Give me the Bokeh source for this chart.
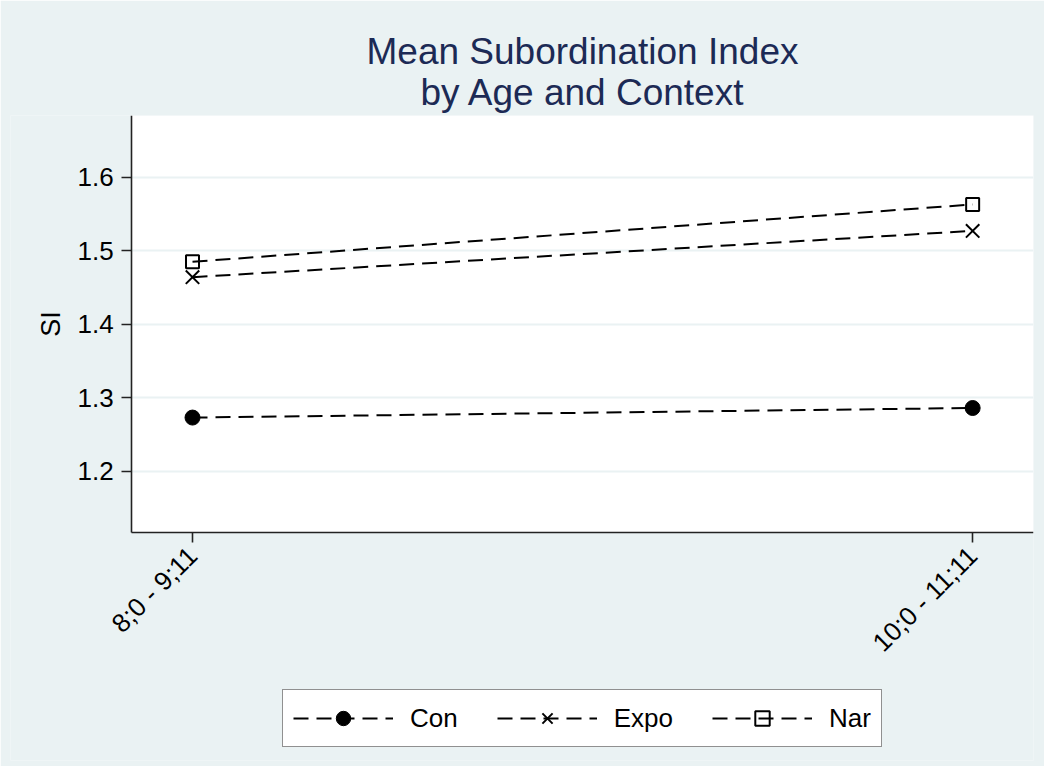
from bokeh.plotting import figure
from bokeh.models import (FixedTicker, Range1d, Legend, LegendItem, Title,
                          BoxAnnotation, Label)
from bokeh.embed import file_html
from bokeh.resources import INLINE
import math

# ---- data ----
age_groups = ["8;0 - 9;11", "10;0 - 11;11"]
age_pos = [1, 2]
con = [1.273, 1.286]
expo = [1.464, 1.527]
nar = [1.485, 1.563]
y_ticks = [1.2, 1.3, 1.4, 1.5, 1.6]
title_lines = ["Mean Subordination Index", "by Age and Context"]
y_title = "SI"

BG = "#EAF2F3"
FONT = "Liberation Sans"
TITLE_COLOR = "#1C2A55"

X_LOW, X_HIGH = 0.922, 2.078      # visible plot region
Y_LOW, Y_HIGH = 1.1166, 1.684
X_FRAME_LOW = 0.7667              # frame extends left to hold tick labels
Y_FRAME_LOW = 0.8064              # frame extends down to hold axis labels + legend

p = figure(width=1044, height=766, output_backend="svg", toolbar_location=None,
           x_range=Range1d(X_FRAME_LOW, X_HIGH), y_range=Range1d(Y_FRAME_LOW, Y_HIGH),
           min_border_left=10, min_border_right=11, min_border_top=115,
           min_border_bottom=6)

p.border_fill_color = BG
p.background_fill_color = BG
p.outline_line_color = None

# white plot region
p.add_layout(BoxAnnotation(left=X_LOW, bottom=Y_LOW, fill_color="white",
                           fill_alpha=1, line_color=None, level="image"))

# two-line title, each line centred over the white plot region
p.title.visible = False
p.add_layout(Title(text=title_lines[1], align="left", offset=410, text_font=FONT,
                   text_font_size="37px", text_font_style="normal",
                   text_color=TITLE_COLOR, standoff=6), "above")
p.add_layout(Title(text=title_lines[0], align="left", offset=356, text_font=FONT,
                   text_font_size="37px", text_font_style="normal",
                   text_color=TITLE_COLOR, standoff=-11), "above")

p.xgrid.visible = False
p.ygrid.grid_line_color = BG
p.ygrid.grid_line_width = 2
p.ygrid.ticker = FixedTicker(ticks=y_ticks)

# y axis at the left edge of the plot region
p.yaxis.fixed_location = X_LOW
p.yaxis.ticker = FixedTicker(ticks=y_ticks)
p.yaxis.bounds = (Y_LOW, Y_HIGH)
p.yaxis.major_label_text_font = FONT
p.yaxis.major_label_text_font_size = "26px"
p.yaxis.major_label_text_color = "black"
p.yaxis.major_label_standoff = 8

p.add_layout(Label(x=X_LOW, y=(Y_LOW + Y_HIGH) / 2, x_offset=-81,
                   text=y_title, angle=math.pi / 2, text_align="center",
                   text_baseline="middle", text_font=FONT,
                   text_font_size="27px", text_color="black"))

# x axis at the bottom of the plot region
p.xaxis.fixed_location = Y_LOW
p.xaxis.bounds = (X_LOW, X_HIGH)
p.xaxis.ticker = FixedTicker(ticks=age_pos)
p.xaxis.major_label_overrides = {k: v for k, v in zip(age_pos, age_groups)}
p.xaxis.major_label_orientation = math.pi / 4
p.xaxis.major_label_text_font = FONT
p.xaxis.major_label_text_font_size = "26px"
p.xaxis.major_label_text_color = "black"
p.xaxis.major_label_standoff = 9

for ax in (p.xaxis, p.yaxis):
    ax.axis_line_color = "#222222"
    ax.axis_line_width = 1.6
    ax.major_tick_line_color = "#222222"
    ax.major_tick_line_width = 1.6
    ax.major_tick_out = 10
    ax.major_tick_in = 0
    ax.minor_tick_line_color = None

DASH = "15 8"
l_con = p.line(age_pos, con, line_color="black", line_width=2, line_dash=DASH)
m_con = p.scatter(age_pos, con, marker="circle", size=15, fill_color="black",
                  line_color="black")
l_expo = p.line(age_pos, expo, line_color="black", line_width=2, line_dash=DASH)
m_expo = p.scatter(age_pos, expo, marker="x", size=19, line_color="black",
                   line_width=2)
l_nar = p.line(age_pos, nar, line_color="black", line_width=2, line_dash=DASH)
m_nar = p.scatter(age_pos, nar, marker="square", size=13, fill_alpha=0,
                  line_color="black", line_width=2)

legend = Legend(items=[LegendItem(label="Con", renderers=[l_con, m_con]),
                       LegendItem(label="Expo", renderers=[l_expo, m_expo]),
                       LegendItem(label="Nar", renderers=[l_nar, m_nar])],
                orientation="horizontal", location=(272, 13), margin=0,
                glyph_width=100, glyph_height=36, label_height=36,
                padding=10, spacing=39, label_standoff=17,
                label_text_font=FONT, label_text_font_size="26px",
                label_text_color="black",
                border_line_color="#222222", border_line_width=1.6,
                background_fill_color="white", background_fill_alpha=1)
p.add_layout(legend)

open("out.html", "w").write(file_html(p, INLINE))
